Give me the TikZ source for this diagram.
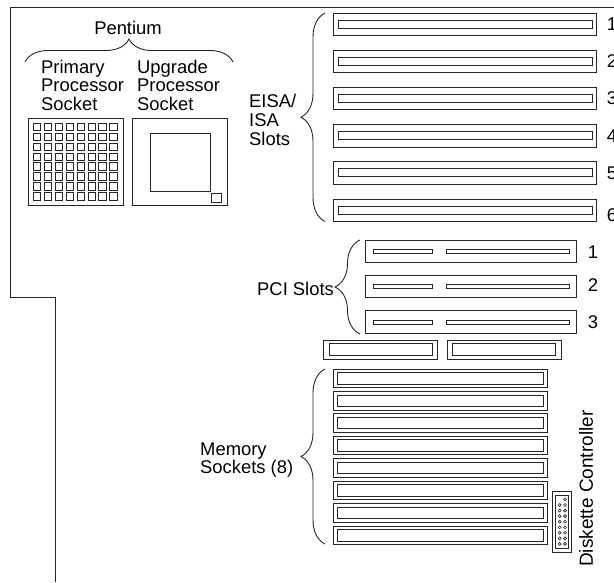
\documentclass[tikz,border=0pt]{standalone}
\usepackage{fontspec}
\setmainfont{Liberation Sans}
\usetikzlibrary{decorations.pathreplacing}

\begin{document}
\begin{tikzpicture}[x=1pt,y=-1pt,
    part/.style={draw=black!85, line width=0.9pt},
    bracket/.style={draw=black!85, line width=0.9pt, decorate, decoration={brace,amplitude=#1}},
    lbl/.style={font=\fontsize{18.4}{18.7}\selectfont, align=left, inner sep=0pt, anchor=west},
    num/.style={font=\fontsize{18.4}{18}\selectfont, inner sep=0pt}]
      \clip (0,0) rectangle (614,582);
      % board outline
      \draw[part] (614,7.5) -- (10.5,7.5) -- (10.5,297.5) -- (55.5,297.5) -- (55.5,582);
      % processors
      \node[lbl,anchor=center] (pentium) at (128,28) {Pentium};
      \draw[bracket=23pt] (25,62) -- (233,62);
      \node[lbl,anchor=north west] (primary) at (41,59.5) {Primary\\Processor\\Socket};
      \node[lbl,anchor=north west] (upgrade) at (137,59.5) {Upgrade\\Processor\\Socket};
      \draw[part] (28,118) rectangle (123,205);
      \foreach \c in {0,...,7} \foreach \r in {0,...,7}
        \draw[part] (33.5+\c*10.9,123.3+\r*9.9) rectangle +(7.4,7.4);
      \draw[part] (132,118) rectangle (227,205);
      \draw[part] (150.5,133.5) rectangle (210.5,191);
      \draw[part] (211.5,193.5) rectangle (221.5,202.5);
      % EISA slots
      \node[lbl] (eisa) at (249,120) {EISA/\\ISA\\Slots};
      \draw[bracket=24pt] (325,221.5) -- (325,13);
      \foreach \r/\ypos in {1/13,2/50.2,3/87.4,4/124.6,5/161.8,6/199} {
        \draw[part] (333.5,\ypos) rectangle (596.5,\ypos+22.4);
        \draw[part] (338.5,\ypos+7) rectangle (592.5,\ypos+15);
      }
      \node[num] (e1) at (612,24) {1};
      \node[num] (e2) at (612,61) {2};
      \node[num] (e3) at (612,98.5) {3};
      \node[num] (e4) at (612,136) {4};
      \node[num] (e5) at (612,173.5) {5};
      \node[num] (e6) at (612,215) {6};
      % PCI slots
      \node[lbl] (pci) at (257,289) {PCI Slots};
      \draw[bracket=25pt] (360,334) -- (360,240);
      \foreach \r/\ypos in {1/240,2/275.4,3/310.8} {
        \draw[part] (365.5,\ypos) rectangle (576.5,\ypos+22.4);
        \draw[part] (373.5,\ypos+9.3) rectangle (432.5,\ypos+13.3);
        \draw[part] (446.5,\ypos+9.3) rectangle (569.5,\ypos+13.3);
      }
      \node[num] (p1) at (593,252.5) {1};
      \node[num] (p2) at (593,285) {2};
      \node[num] (p3) at (593,322) {3};
      % short sockets
      \draw[part] (323.5,340) rectangle (437,359.5);
      \draw[part] (329,343.5) rectangle (432,355.5);
      \draw[part] (447.5,340) rectangle (561,359.5);
      \draw[part] (452.5,343.5) rectangle (555.5,355.5);
      % memory
      \node[lbl] (memory) at (200,460) {Memory\\Sockets (8)};
      \draw[bracket=24pt] (325,544) -- (325,369);
      \foreach \r in {0,...,7} {
        \draw[part] (333.5,369+\r*22.45) rectangle (547,387.5+\r*22.45);
        \draw[part] (337.5,372.5+\r*22.45) rectangle (543,384+\r*22.45);
      }
      % diskette connector
      \draw[part] (552.5,491.5) rectangle (571.5,552.5);
      \draw[part] (555.5,495) rectangle (568.5,548.5);
      \foreach \r in {0,...,8} \draw[black!85, line width=0.6pt] (565,499.5+\r*5.55) circle (1.5);
      \foreach \r in {1,...,8} \draw[black!85, line width=0.6pt] (559.7,499.5+\r*5.55) circle (1.5);
      \node[lbl,font=\fontsize{19}{19}\selectfont,rotate=90,anchor=west] (diskette) at (586,567) {Diskette Controller};
\end{tikzpicture}
\end{document}
